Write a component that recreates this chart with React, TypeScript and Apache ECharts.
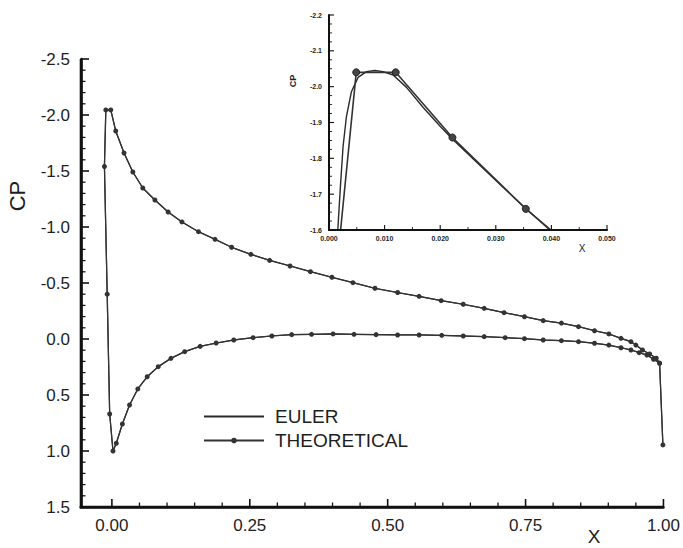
import React, { useEffect, useRef } from "react";
import * as echarts from "echarts";

// ---- Main plot data ----
const lowerX = [0.993, 0.982, 0.970, 0.956, 0.941, 0.923, 0.901, 0.875, 0.846, 0.815, 0.782, 0.748, 0.713, 0.675, 0.637, 0.598, 0.557, 0.518, 0.479, 0.439, 0.401, 0.362, 0.326, 0.290, 0.256, 0.221, 0.189, 0.160, 0.132, 0.107, 0.084, 0.064, 0.047, 0.032, 0.019, 0.008, 0.002, -0.004, -0.0085, -0.0135];
const lowerCp = [0.217, 0.181, 0.143, 0.122, 0.098, 0.078, 0.054, 0.038, 0.024, 0.015, 0.009, -0.003, -0.012, -0.021, -0.027, -0.033, -0.036, -0.036, -0.039, -0.042, -0.045, -0.042, -0.039, -0.027, -0.012, 0.009, 0.036, 0.066, 0.113, 0.173, 0.247, 0.337, 0.446, 0.589, 0.759, 0.931, 1.0, 0.67, -0.40, -1.54];
const upperX = [-0.011, -0.002, 0.007, 0.022, 0.038, 0.056, 0.078, 0.102, 0.127, 0.157, 0.187, 0.217, 0.252, 0.286, 0.323, 0.360, 0.399, 0.437, 0.477, 0.518, 0.557, 0.597, 0.637, 0.675, 0.711, 0.748, 0.782, 0.815, 0.846, 0.875, 0.901, 0.923, 0.941, 0.950, 0.962, 0.975, 0.987, 0.993, 0.999];
const upperCp = [-2.045, -2.045, -1.857, -1.661, -1.491, -1.348, -1.241, -1.134, -1.045, -0.958, -0.890, -0.819, -0.756, -0.702, -0.652, -0.601, -0.551, -0.503, -0.453, -0.415, -0.381, -0.342, -0.310, -0.274, -0.235, -0.199, -0.164, -0.142, -0.110, -0.074, -0.045, -0.006, 0.024, 0.054, 0.098, 0.134, 0.172, 0.215, 0.946];

// ---- Inset data (leading edge detail) ----
const insetTheoX = [0.0017, 0.0049, 0.0120, 0.0222, 0.0354, 0.046];
const insetTheoCp = [-1.54, -2.04, -2.04, -1.858, -1.659, -1.52];
const insetEulerX = [0.0012, 0.00205, 0.00253, 0.00313, 0.00403, 0.00523, 0.00673, 0.00823, 0.00973, 0.01154, 0.01394, 0.01694, 0.01995, 0.02223, 0.02595, 0.03016, 0.03496, 0.04007, 0.046];
const insetEulerCp = [-1.50, -1.721, -1.833, -1.916, -1.986, -2.026, -2.042, -2.045, -2.042, -2.0325, -1.998, -1.942, -1.890, -1.853, -1.798, -1.736, -1.666, -1.595, -1.52];

// ---- Axis ranges and ticks ----
const mainXRange = [-0.056, 1.0];
const mainYRange = [-2.5, 1.5];
const mainXMajor = [0, 0.25, 0.5, 0.75, 1.0];
const mainXMinor = [0.05, 0.1, 0.15, 0.2, 0.3, 0.35, 0.4, 0.45, 0.55, 0.6, 0.65, 0.7, 0.8, 0.85, 0.9, 0.95];
const mainYMajor = [-2.5, -2.0, -1.5, -1.0, -0.5, 0.0, 0.5, 1.0, 1.5];
const mainYMinor = [-2.4, -2.3, -2.2, -2.1, -1.9, -1.8, -1.7, -1.6, -1.4, -1.3, -1.2, -1.1, -0.9, -0.8, -0.7, -0.6, -0.4, -0.3, -0.2, -0.1, 0.1, 0.2, 0.3, 0.4, 0.6, 0.7, 0.8, 0.9, 1.1, 1.2, 1.3, 1.4];
const insetXRange = [0, 0.05];
const insetYRange = [-2.2, -1.6];
const insetXMajor = [0, 0.01, 0.02, 0.03, 0.04, 0.05];
const insetXMinor = [0.005, 0.015, 0.025, 0.035, 0.045];
const insetYMajor = [-2.2, -2.1, -2.0, -1.9, -1.8, -1.7, -1.6];
const insetYMinor = [-2.175, -2.15, -2.125, -2.075, -2.05, -2.025, -1.975, -1.95, -1.925, -1.875, -1.85, -1.825, -1.775, -1.75, -1.725, -1.675, -1.65, -1.625];

const legendNames = ["EULER", "THEORETICAL"];

const zip = (xs: number[], ys: number[]) => xs.map((x, i) => [x, ys[i]]);

const FONT = "'Liberation Sans', Arial, Helvetica, sans-serif";
const INK = "#1e1e1e";

// grid boxes (layout only)
const MAIN_BOX = { left: 81, top: 59, width: 583, height: 448 };
const INSET_BOX = { left: 329, top: 15, width: 278, height: 215 };

export default function App() {
  const ref = useRef<HTMLDivElement>(null);
  useEffect(() => {
    if (!ref.current) return;
    const chart = echarts.init(ref.current, null, { renderer: "svg" });
    const mainPath = [...zip(lowerX, lowerCp), ...zip(upperX, upperCp)];
    const axisDraw = (w: number) => ({
      axisLine: { show: true, onZero: false, lineStyle: { color: "#111", width: w } },
      axisTick: { show: false },
      splitLine: { show: false },
    });
    chart.setOption({
      animation: false,
      backgroundColor: "#fff",
      grid: [
        { left: MAIN_BOX.left, top: MAIN_BOX.top, width: MAIN_BOX.width, height: MAIN_BOX.height },
        { left: INSET_BOX.left, top: INSET_BOX.top, width: INSET_BOX.width, height: INSET_BOX.height },
      ],
      legend: {
        data: [
          { name: legendNames[0], itemStyle: { color: "transparent", borderColor: "transparent", borderWidth: 0 } },
          { name: legendNames[1] },
        ],
        orient: "vertical",
        left: 203,
        top: 407,
        padding: 0,
        itemWidth: 60,
        itemHeight: 7,
        itemGap: 5,
        selectedMode: false,
        textStyle: { fontFamily: FONT, fontSize: 19, color: INK, padding: [0, 0, 0, 6] },
      },
      xAxis: [
        {
          gridIndex: 0, type: "value", min: mainXRange[0], max: mainXRange[1], ...axisDraw(2.6),
          axisLabel: { customValues: mainXMajor, formatter: (v: number) => v.toFixed(2), fontFamily: FONT, fontSize: 17, color: INK, margin: 10 },
        },
        {
          gridIndex: 1, type: "value", min: insetXRange[0], max: insetXRange[1], interval: 0.01, ...axisDraw(2),
          axisLabel: { formatter: (v: number) => v.toFixed(3), fontFamily: FONT, fontSize: 7, fontWeight: "bold", color: INK, margin: 5 },
        },
      ],
      yAxis: [
        {
          gridIndex: 0, type: "value", inverse: true, min: mainYRange[0], max: mainYRange[1], interval: 0.5, ...axisDraw(2.6),
          axisLabel: { formatter: (v: number) => v.toFixed(1), fontFamily: FONT, fontSize: 17, color: INK, margin: 11 },
        },
        {
          gridIndex: 1, type: "value", inverse: true, min: insetYRange[0], max: insetYRange[1], interval: 0.1, ...axisDraw(2),
          axisLabel: { formatter: (v: number) => v.toFixed(1), fontFamily: FONT, fontSize: 7, fontWeight: "bold", color: INK, margin: 7 },
        },
      ],
      series: [
        {
          name: "EULER", type: "line", xAxisIndex: 0, yAxisIndex: 0, data: mainPath,
          symbol: "none", lineStyle: { color: "#2a2a2a", width: 1.2 }, itemStyle: { color: "#2a2a2a" },
        },
        {
          name: "THEORETICAL", type: "line", xAxisIndex: 0, yAxisIndex: 0, data: mainPath,
          symbol: "circle", symbolSize: 5, showAllSymbol: true,
          lineStyle: { color: "#333", width: 1.3 }, itemStyle: { color: "#333" },
        },
        {
          name: "EULER", type: "line", xAxisIndex: 1, yAxisIndex: 1, data: zip(insetEulerX, insetEulerCp),
          symbol: "none", clip: true, lineStyle: { color: "#2a2a2a", width: 1.4 },
        },
        {
          name: "THEORETICAL", type: "line", xAxisIndex: 1, yAxisIndex: 1, data: zip(insetTheoX, insetTheoCp),
          symbol: "circle", symbolSize: 7, clip: true,
          lineStyle: { color: "#333", width: 1.6 }, itemStyle: { color: "#444", borderColor: "#222", borderWidth: 1 },
        },
      ],
    });

    // Axis frame and ticks as filled thin rects, positioned through the chart's scales
    const linear = (v: number, r: number[], a: number, b: number) => a + ((v - r[0]) / (r[1] - r[0])) * (b - a);
    const toPx = (xi: number, yi: number, box: any, xr: number[], yr: number[], x: number, y: number): number[] => {
      let p: any = null;
      try { p = chart.convertToPixel({ xAxisIndex: xi, yAxisIndex: yi } as any, [x, y]); } catch (e) { p = null; }
      if (p && isFinite(p[0]) && isFinite(p[1])) return [p[0], p[1]];
      return [linear(x, xr, box.left, box.left + box.width), linear(y, yr, box.top, box.top + box.height)];
    };
    const rects: any[] = [];
    const hbar = (x1: number, x2: number, y: number, w: number) =>
      rects.push({ type: "rect", z: 500, shape: { x: Math.min(x1, x2), y: y - w / 2, width: Math.abs(x2 - x1), height: w }, style: { fill: "#111" } });
    const vbar = (x: number, y1: number, y2: number, w: number) =>
      rects.push({ type: "rect", z: 500, shape: { x: x - w / 2, y: Math.min(y1, y2), width: w, height: Math.abs(y2 - y1) }, style: { fill: "#111" } });

    const buildAxes = (xi: number, yi: number, box: any, xr: number[], yr: number[], xMaj: number[], xMin: number[], yMaj: number[], yMin: number[], w: number, majLen: number, minLen: number, tickW: number) => {
      const o = toPx(xi, yi, box, xr, yr, xr[0], yr[1]);
      const xe = toPx(xi, yi, box, xr, yr, xr[1], yr[1]);
      const ye = toPx(xi, yi, box, xr, yr, xr[0], yr[0]);
      hbar(o[0] - w / 2, xe[0], o[1], w);
      vbar(o[0], ye[1], o[1] + w / 2, w);
      xMaj.forEach((v) => { const p = toPx(xi, yi, box, xr, yr, v, yr[1]); vbar(p[0], p[1], p[1] - majLen, tickW); });
      xMin.forEach((v) => { const p = toPx(xi, yi, box, xr, yr, v, yr[1]); vbar(p[0], p[1], p[1] - minLen, tickW * 0.8); });
      yMaj.forEach((v) => { const p = toPx(xi, yi, box, xr, yr, xr[0], v); hbar(p[0], p[0] + majLen, p[1], tickW); });
      yMin.forEach((v) => { const p = toPx(xi, yi, box, xr, yr, xr[0], v); hbar(p[0], p[0] + minLen, p[1], tickW * 0.8); });
    };
    buildAxes(0, 0, MAIN_BOX, mainXRange, mainYRange, mainXMajor, mainXMinor, mainYMajor, mainYMinor, 2.6, 8, 4.5, 1.6);
    buildAxes(1, 1, INSET_BOX, insetXRange, insetYRange, insetXMajor, insetXMinor, insetYMajor, insetYMinor, 2, 5, 3, 1.1);

    const texts = [
      { type: "text", x: 17, y: 196, rotation: Math.PI / 2, style: { text: "CP", fontFamily: FONT, fontSize: 22, fill: INK, textAlign: "center", textVerticalAlign: "middle" } },
      { type: "text", x: 594, y: 536, style: { text: "X", fontFamily: FONT, fontSize: 19, fill: INK, textAlign: "center", textVerticalAlign: "middle" } },
      { type: "text", x: 293, y: 81, rotation: Math.PI / 2, style: { text: "CP", fontFamily: FONT, fontSize: 9, fontWeight: "bold", fill: INK, textAlign: "center", textVerticalAlign: "middle" } },
      { type: "text", x: 582, y: 248, style: { text: "X", fontFamily: FONT, fontSize: 10, fill: INK, textAlign: "center", textVerticalAlign: "middle" } },
    ];
    chart.setOption({ graphic: [...texts, ...rects] });
    return () => chart.dispose();
  }, []);
  return (
    <div
      ref={ref}
      style={{ position: "fixed", left: 0, top: 0, width: 683, height: 548, background: "#fff" }}
    />
  );
}
